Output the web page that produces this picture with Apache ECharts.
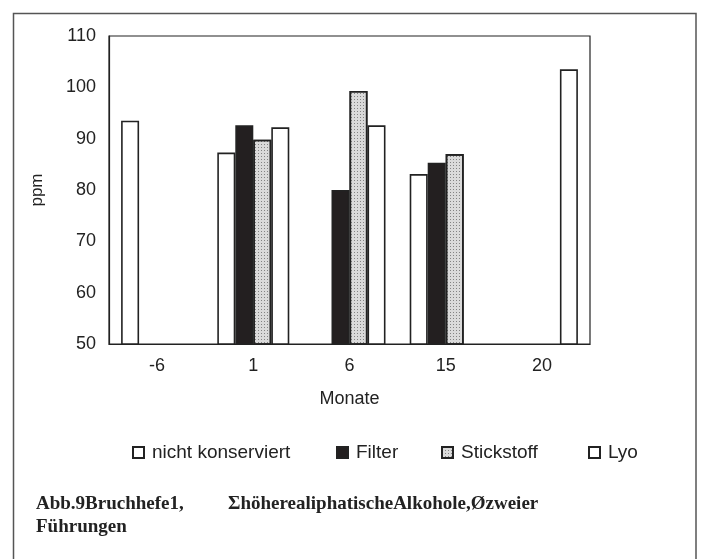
<!DOCTYPE html>
<html>
<head>
<meta charset="utf-8">
<script src="https://cdn.jsdelivr.net/npm/echarts@6/dist/echarts.min.js"></script>
<style>
  html, body { margin: 0; padding: 0; background: #fff; }
  #chart { width: 701px; height: 559px; }
</style>
</head>
<body>
<div id="chart"></div>
<script>
// Monate
var months = ['-6', '1', '6', '15', '20'];
// ppm values, '-' = no bar
var nichtKonserviert = [93.5, 87.3, '-', 83.1, '-'];
var filter = ['-', 92.6, 80.0, 85.3, '-'];
var stickstoff = ['-', 89.8, 99.3, 87.0, '-'];
var lyo = ['-', 92.2, 92.6, '-', 103.5];
var yTicks = [50, 110, 10]; // min, max, step

var chart = echarts.init(document.getElementById('chart'));
var ink = '#222';
var font = 'Liberation Sans';

function legendAt(name, left) {
  return {
    data: [name], left: left, top: 438,
    icon: 'rect', itemWidth: 11, itemHeight: 11, itemGap: 0,
    textStyle: { fontFamily: font, fontSize: 19, color: ink, padding: [0, 0, 2, 3] },
    selectedMode: false
  };
}

var option = {
  backgroundColor: '#fff',
  animation: false,
  grid: {
    left: 109, top: 36, right: 111, bottom: 215,
    show: true, borderColor: ink, borderWidth: 1.2
  },
  legend: [
    legendAt('nicht konserviert', 127),
    legendAt('Filter', 331),
    legendAt('Stickstoff', 436),
    legendAt('Lyo', 583)
  ],
  xAxis: {
    type: 'category',
    data: months,
    name: 'Monate', nameLocation: 'middle', nameGap: 46,
    nameTextStyle: { fontFamily: font, fontSize: 18, color: ink },
    axisLine: { lineStyle: { color: ink, width: 1.2 } },
    axisTick: { show: false },
    axisLabel: { fontFamily: font, fontSize: 18, color: ink, margin: 13 }
  },
  yAxis: {
    type: 'value',
    min: yTicks[0], max: yTicks[1], interval: yTicks[2],
    name: 'ppm', nameLocation: 'middle', nameGap: 63, nameRotate: 90,
    nameTextStyle: { fontFamily: font, fontSize: 17, color: ink },
    axisLine: { show: true, lineStyle: { color: ink, width: 1.2 } },
    axisTick: { show: false },
    splitLine: { show: false },
    axisLabel: { fontFamily: font, fontSize: 18, color: ink, margin: 13 }
  },
  series: [
    { name: 'nicht konserviert', type: 'bar', data: nichtKonserviert, barWidth: 18, barGap: 0,
      itemStyle: { color: '#fff', borderColor: ink, borderWidth: 1.6 } },
    { name: 'Filter', type: 'bar', data: filter, barWidth: 18, barGap: 0,
      itemStyle: { color: '#231f20', borderColor: ink, borderWidth: 1.6 } },
    { name: 'Stickstoff', type: 'bar', data: stickstoff, barWidth: 18, barGap: 0,
      itemStyle: {
        color: '#dadada', borderColor: ink, borderWidth: 1.6,
        decal: { symbol: 'rect', symbolSize: 1, dashArrayX: [1, 2], dashArrayY: [1, 2],
                 color: 'rgba(0,0,0,0.4)', rotation: 0 }
      } },
    { name: 'Lyo', type: 'bar', data: lyo, barWidth: 18, barGap: 0,
      itemStyle: { color: '#fff', borderColor: ink, borderWidth: 1.6 } }
  ],
  graphic: [
    { type: 'rect', shape: { x: 13.5, y: 13.5, width: 682.5, height: 570 },
      style: { fill: null, stroke: '#555', lineWidth: 1.5 }, silent: true },
    { type: 'text', left: 36, top: 495,
      style: { text: 'Abb.9Bruchhefe1,', font: 'bold 19px "Liberation Serif"', fill: ink } },
    { type: 'text', left: 228, top: 495,
      style: { text: 'ΣhöherealiphatischeAlkohole,Øzweier', font: 'bold 19px "Liberation Serif"', fill: ink } },
    { type: 'text', left: 36, top: 518,
      style: { text: 'Führungen', font: 'bold 19px "Liberation Serif"', fill: ink } }
  ]
};

chart.setOption(option);
</script>
</body>
</html>
